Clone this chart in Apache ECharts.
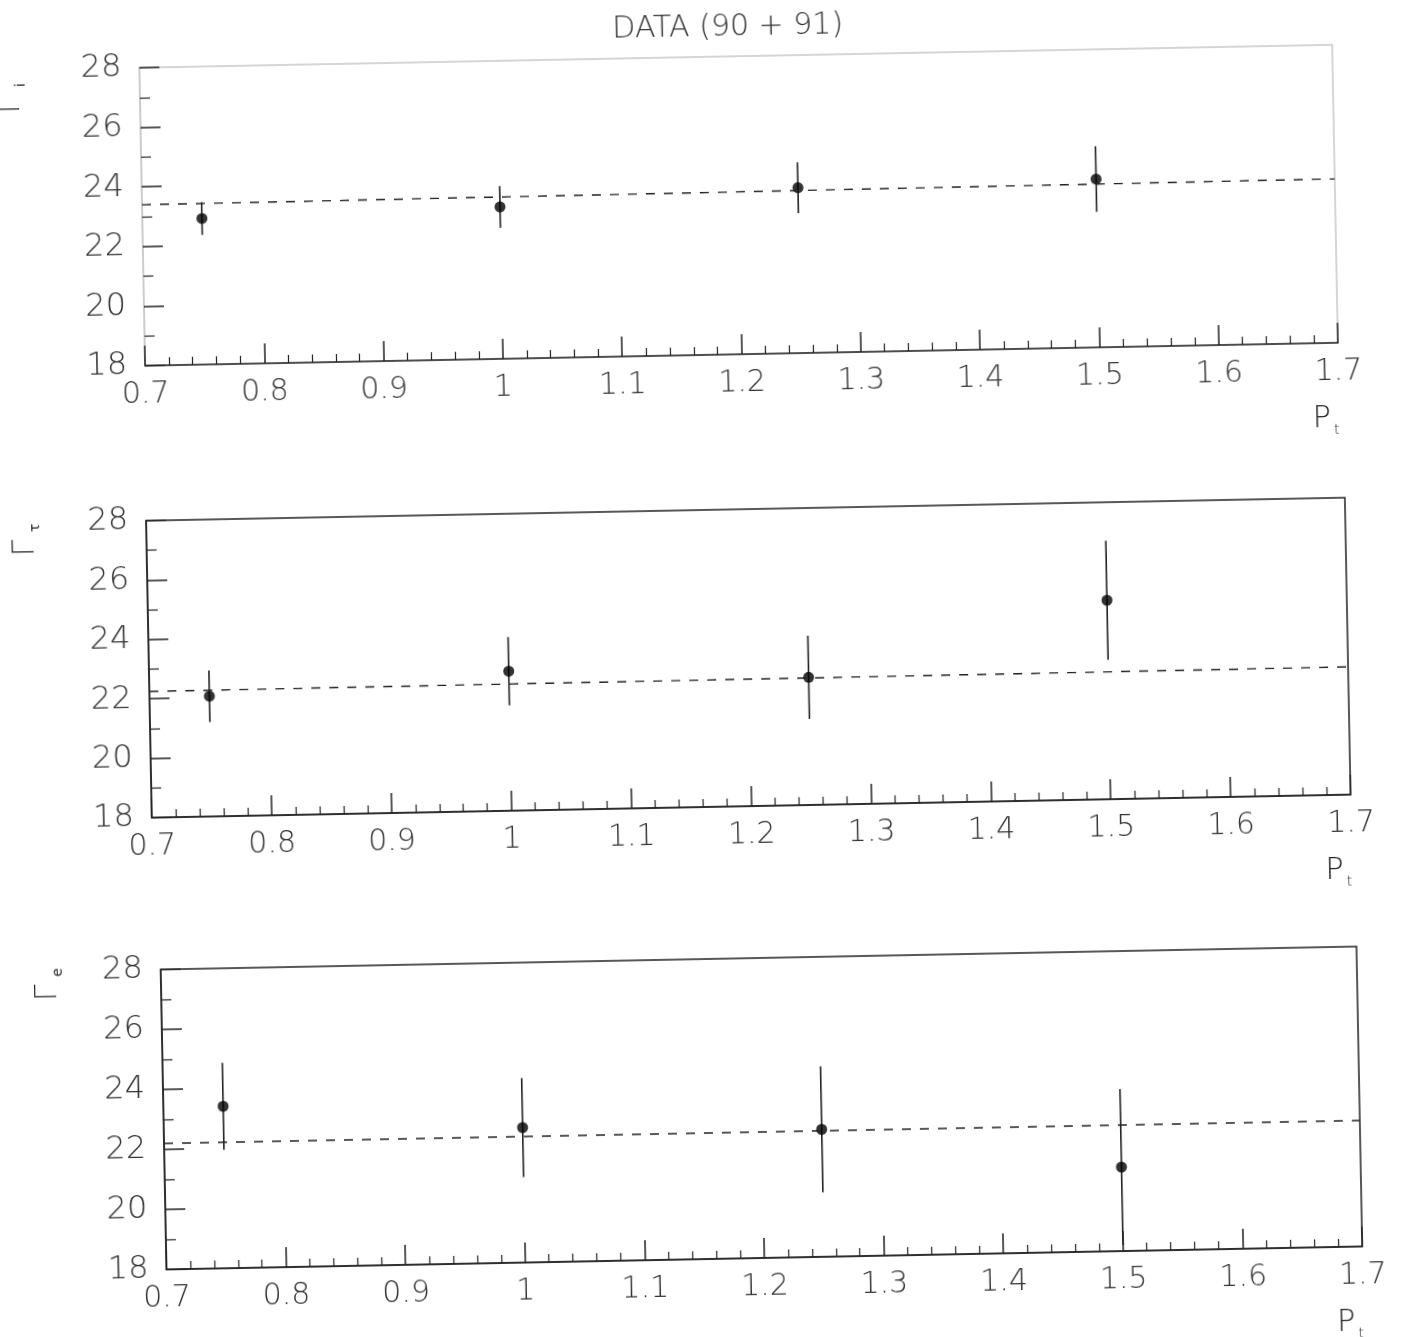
<!DOCTYPE html>
<html>
<head>
<meta charset="utf-8">
<title>DATA (90 + 91)</title>
<script src="https://cdn.jsdelivr.net/npm/echarts@6/dist/echarts.min.js"></script>
<style>
    html, body { margin: 0; padding: 0; background: #fff; overflow: hidden; }
    /* the scanned original is tilted a little, so is the page (canvas a bit larger so corners are not cut) */
    #chart { width: 1440px; height: 1400px; transform: rotate(-1.1deg); transform-origin: 704px 668px; }
</style>
</head>
<body>
<div id="chart"></div>
<script>
// values
var ptValues = [0.75, 1.0, 1.25, 1.5];

var gammaTop = [22.9, 23.1, 23.55, 23.65];
var errTop = [0.55, 0.7, 0.85, 1.1];
var fitTop = [23.4, 23.5];

var gammaMid = [22.05, 22.7, 22.3, 24.7];
var errMid = [0.87, 1.15, 1.4, 2.0];
var fitMid = [22.25, 22.3];

var gammaBot = [23.4, 22.5, 22.25, 20.8];
var errBot = [1.45, 1.65, 2.1, 2.6];
var fitBot = [22.2, 22.2];

var fitRange = [0.7, 1.7];
var gammaNames = ['i', 'τ', 'e'];

var font = 'DejaVu Sans';
var weight = 200;
var ink = '#222';

var panels = [
    { vals: gammaTop, errs: errTop, fit: fitTop, grid: { left: 151, top: 57, width: 1193, height: 298 }, faint: true },
    { vals: gammaMid, errs: errMid, fit: fitMid, grid: { left: 149, top: 510, width: 1199, height: 297 } },
    { vals: gammaBot, errs: errBot, fit: fitBot, grid: { left: 155, top: 959, width: 1196, height: 300 } }
];

var grids = [], xAxes = [], yAxes = [], series = [];

panels.forEach(function (p, i) {
    var frame = p.faint ? '#c8c8c8' : ink;
    grids.push({
        left: p.grid.left, top: p.grid.top, width: p.grid.width, height: p.grid.height,
        outerBoundsMode: 'none', containLabel: false,
        show: true, borderColor: frame, borderWidth: 1.5, backgroundColor: 'transparent'
    });
    xAxes.push({
        type: 'value', gridIndex: i, min: 0.7, max: 1.7, interval: 0.1,
        name: 'P{s|t}', nameLocation: 'end', nameGap: 0,
        nameTextStyle: {
            fontFamily: font, fontWeight: weight, fontSize: 30, color: ink, align: 'right', verticalAlign: 'top',
            padding: [58, 0, 0, 0],
            rich: { s: { fontFamily: font, fontWeight: weight, fontSize: 14, color: ink, padding: [22, 0, 0, 3] } }
        },
        axisLine: { show: true, lineStyle: { color: ink, width: 1.5 } },
        axisTick: { show: true, inside: true, length: 20, lineStyle: { color: ink, width: 1.5 } },
        minorTick: { show: true, splitNumber: 5, length: 8, lineStyle: { color: ink, width: 1.2 } },
        splitLine: { show: false },
        axisLabel: {
            margin: 14, fontFamily: font, fontWeight: weight, fontSize: 30, color: '#333',
            formatter: function (v) { return String(+v.toFixed(2)); }
        }
    });
    yAxes.push({
        type: 'value', gridIndex: i, min: 18, max: 28, interval: 2,
        axisLine: { show: true, lineStyle: { color: frame, width: 1.5 } },
        axisTick: { show: true, inside: true, length: 20, lineStyle: { color: ink, width: 1.5 } },
        minorTick: { show: true, splitNumber: 2, length: 10, lineStyle: { color: ink, width: 1.2 } },
        splitLine: { show: false },
        axisLabel: { margin: 18, fontFamily: font, fontWeight: weight, fontSize: 32, color: '#333' }
    });

    // fitted line, dashed
    series.push({
        type: 'line', xAxisIndex: i, yAxisIndex: i, symbol: 'none', silent: true,
        data: [[fitRange[0], p.fit[0]], [fitRange[1], p.fit[1]]],
        lineStyle: { color: ink, width: 1.4, type: [9, 9] }
    });

    // error bars
    var bars = p.vals.map(function (v, k) { return [ptValues[k], v - p.errs[k], v + p.errs[k]]; });
    series.push({
        type: 'custom', xAxisIndex: i, yAxisIndex: i, silent: true,
        encode: { x: 0, y: [1, 2] },
        clip: true,
        data: bars,
        renderItem: function (params, api) {
            var lo = api.coord([api.value(0), Math.max(api.value(1), 18)]);
            var hi = api.coord([api.value(0), Math.min(api.value(2), 28)]);
            return {
                type: 'line',
                shape: { x1: lo[0], y1: lo[1], x2: hi[0], y2: hi[1] },
                style: { stroke: ink, lineWidth: 1.6 }
            };
        }
    });

    // data points
    series.push({
        type: 'scatter', xAxisIndex: i, yAxisIndex: i, symbol: 'circle', symbolSize: 11,
        itemStyle: { color: '#000' },
        data: p.vals.map(function (v, k) { return [ptValues[k], v]; })
    });
});

// y titles are written upwards, as in the scan
var gammaPos = [[22, 80], [28, 523], [42, 968]];

var chart = echarts.init(document.getElementById('chart'));
chart.setOption({
    backgroundColor: '#fff',
    animation: false,
    grid: grids,
    xAxis: xAxes,
    yAxis: yAxes,
    series: series,
    graphic: [
        {
            type: 'text', x: 740, y: 28,
            style: {
                text: 'DATA (90 + 91)', fontFamily: font, fontWeight: weight, fontSize: 30, fill: '#333',
                align: 'center', verticalAlign: 'middle'
            }
        }
    ].concat(gammaNames.map(function (s, i) {
        return {
            type: 'group', x: gammaPos[i][0], y: gammaPos[i][1], rotation: Math.PI / 2,
            children: [
                {
                    type: 'text', x: -12, y: 0,
                    style: { text: 'Γ', fontFamily: font, fontWeight: weight, fontSize: 30, fill: ink, align: 'center', verticalAlign: 'middle' }
                },
                {
                    type: 'text', x: 8, y: 10,
                    style: { text: s, fontFamily: font, fontSize: 14, fill: ink, align: 'center', verticalAlign: 'middle' }
                }
            ]
        };
    }))
});
</script>
</body>
</html>
